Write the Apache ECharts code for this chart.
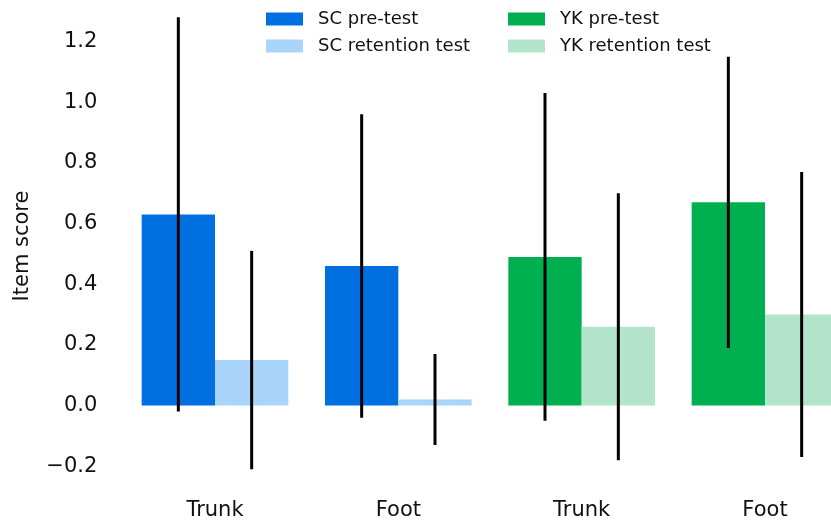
<!DOCTYPE html>
<html>
<head>
<meta charset="utf-8">
<script src="https://cdn.jsdelivr.net/npm/echarts@6/dist/echarts.min.js"></script>
<style>
html,body{margin:0;padding:0;background:#fff;}
#c{width:831px;height:521px;}
</style>
</head>
<body>
<div id="c"></div>
<script>
// ---- data ----
const categories = ['Trunk', 'Foot', 'Trunk', 'Foot'];
const scPre = [0.63, 0.46, '-', '-'];
const scRet = [0.15, 0.02, '-', '-'];
const ykPre = ['-', '-', 0.49, 0.67];
const ykRet = ['-', '-', 0.26, 0.30];
const preMean = [0.63, 0.46, 0.49, 0.67];
const retMean = [0.15, 0.02, 0.26, 0.30];
const preErr = [0.65, 0.50, 0.54, 0.48];
const retErr = [0.36, 0.15, 0.44, 0.47];
const yTicks = [-0.2, 0.0, 0.2, 0.4, 0.6, 0.8, 1.0, 1.2];

// error bar rows: [category index, slot (0 pre / 1 retention), low, high]
const errRows = [];
for (let i = 0; i < categories.length; i++) {
  errRows.push([i, 0, preMean[i] - preErr[i], preMean[i] + preErr[i]]);
  errRows.push([i, 1, retMean[i] - retErr[i], retMean[i] + retErr[i]]);
}

const FONT = 'DejaVu Sans';
const chart = echarts.init(document.getElementById('c'), null, {renderer: 'canvas'});
const legendText = {fontFamily: FONT, fontSize: 18, color: '#111', padding: [0, 0, 0, 10]};
const barCommon = {type: 'bar', barGap: '0%', barCategoryGap: '20%', clip: false};

chart.setOption({
  animation: false,
  backgroundColor: '#fff',
  textStyle: {fontFamily: FONT},
  grid: {left: 215, top: 0, width: 550, height: 492.2, containLabel: false},
  legend: [
    {data: ['SC pre-test', 'SC retention test'], orient: 'vertical', left: 266, top: 10, padding: 0,
     itemWidth: 37, itemHeight: 13, itemGap: 9, icon: 'rect', textStyle: legendText},
    {data: ['YK pre-test', 'YK retention test'], orient: 'vertical', left: 508, top: 10, padding: 0,
     itemWidth: 37, itemHeight: 13, itemGap: 9, icon: 'rect', textStyle: legendText}
  ],
  xAxis: {
    type: 'category',
    data: categories,
    boundaryGap: false,
    axisLine: {show: false},
    axisTick: {show: false},
    splitLine: {show: false},
    axisLabel: {fontFamily: FONT, fontSize: 21, color: '#111', margin: 8}
  },
  yAxis: {
    type: 'value',
    min: -0.285,
    max: 1.337,
    name: 'Item score',
    nameLocation: 'middle',
    nameGap: 181.7,
    nameTextStyle: {fontFamily: FONT, fontSize: 21, color: '#111'},
    axisLine: {show: false},
    axisTick: {show: false},
    splitLine: {show: false},
    axisLabel: {
      customValues: yTicks,
      fontFamily: FONT, fontSize: 21, color: '#111', margin: 117.7,
      padding: [5, 0, 0, 0],
      formatter: v => v.toFixed(1).replace('-', '\u2212')
    }
  },
  series: [
    Object.assign({name: 'SC pre-test', stack: 'pre', data: scPre, itemStyle: {color: '#006FE0'}}, barCommon),
    Object.assign({name: 'SC retention test', stack: 'ret', data: scRet, itemStyle: {color: '#AAD5FA'}}, barCommon),
    Object.assign({name: 'YK pre-test', stack: 'pre', data: ykPre, itemStyle: {color: '#00AF50'}}, barCommon),
    Object.assign({name: 'YK retention test', stack: 'ret', data: ykRet, itemStyle: {color: '#B3E5CC'}}, barCommon),
    {
      name: 'err', type: 'custom', data: errRows, z: 10, clip: false,
      encode: {x: 0, y: [2, 3]},
      renderItem: function (params, api) {
        const cat = api.value(0);
        const slot = api.value(1);
        const lo = api.coord([cat, api.value(2)]);
        const hi = api.coord([cat, api.value(3)]);
        const bw = api.size([1, 0])[0];
        const off = (slot === 0 ? -1 : 1) * bw * 0.2;
        return {
          type: 'line',
          shape: {x1: lo[0] + off, y1: lo[1], x2: hi[0] + off, y2: hi[1]},
          style: {stroke: '#000', lineWidth: 3}
        };
      }
    }
  ]
});
</script>
</body>
</html>
